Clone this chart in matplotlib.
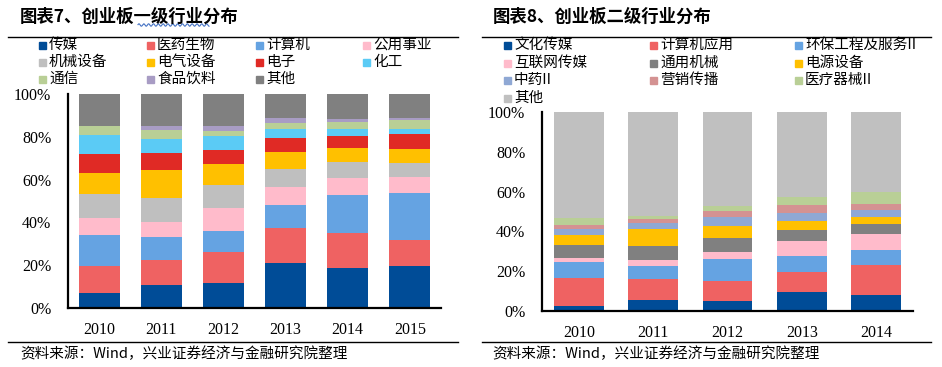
import numpy as np
import matplotlib.pyplot as plt
from matplotlib.patches import Rectangle

plt.rcParams['font.family'] = ['Noto Sans CJK SC', 'DejaVu Sans']

# 图表7 data (share, %)
years1 = ['2010', '2011', '2012', '2013', '2014', '2015']
names1 = ['传媒', '医药生物', '计算机', '公用事业', '机械设备', '电气设备',
          '电子', '化工', '通信', '食品饮料', '其他']
colors1 = ['#004C97', '#EF6262', '#65A3E2', '#FFBBCB', '#BFBFBF', '#FFC000',
           '#E02A25', '#5BCBF5', '#B9CF96', '#A89CC4', '#808080']
values1 = [
    [7.2, 10.9, 11.8, 21.2, 18.8, 19.8],
    [12.2, 11.7, 14.5, 16.3, 16.3, 12.1],
    [14.8, 10.7, 9.8, 10.7, 17.8, 21.9],
    [7.9, 7.0, 10.7, 8.4, 7.9, 7.5],
    [11.2, 11.0, 10.7, 8.4, 7.3, 6.5],
    [10.0, 13.2, 9.8, 7.9, 6.7, 6.5],
    [8.7, 8.0, 6.6, 6.6, 5.6, 7.0],
    [8.9, 6.5, 6.5, 4.2, 3.3, 2.4],
    [4.2, 4.2, 2.3, 2.8, 3.2, 4.2],
    [0.0, 1.9, 2.4, 2.3, 1.4, 0.9],
    [14.9, 14.9, 14.9, 11.2, 11.7, 11.2],
]

# 图表8 data (share, %)
years2 = ['2010', '2011', '2012', '2013', '2014']
names2 = ['文化传媒', '计算机应用', '环保工程及服务II', '互联网传媒', '通用机械',
          '电源设备', '中药II', '营销传播', '医疗器械II', '其他']
colors2 = ['#004C97', '#EF6262', '#65A3E2', '#FFBBCB', '#808080', '#FFC000',
           '#8FA8D4', '#D49292', '#B9CF96', '#C0C0C0']
values2 = [
    [2.3, 5.5, 5.0, 9.5, 8.0],
    [14.1, 10.4, 9.9, 9.9, 15.3],
    [8.1, 6.5, 11.1, 8.2, 7.4],
    [2.0, 3.2, 3.6, 7.6, 7.8],
    [6.7, 6.9, 7.1, 5.3, 5.2],
    [4.8, 8.5, 6.0, 4.7, 3.5],
    [3.0, 3.1, 4.7, 3.9, 3.4],
    [2.2, 2.0, 2.7, 4.0, 3.2],
    [3.5, 1.8, 2.7, 4.0, 5.8],
    [53.3, 52.1, 47.2, 42.9, 40.4],
]

W, H = 942, 367
fig = plt.figure(figsize=(W / 100, H / 100), dpi=100)


def fx(px):
    return px / W


def fy(py):
    return 1 - py / H


def stacked(ax, years, values, colors, width):
    x = np.arange(len(years))
    bottom = np.zeros(len(years))
    for vals, c in zip(values, colors):
        ax.bar(x, vals, width, bottom=bottom, color=c, linewidth=0)
        bottom += np.array(vals)
    ax.set_xlim(-0.5, len(years) - 0.5)
    ax.set_ylim(0, 100)
    ax.set_yticks(range(0, 101, 20))
    ax.set_yticklabels(['%d%%' % v for v in range(0, 101, 20)],
                       family='Liberation Serif', fontsize=11.5)
    ax.set_xticks(x)
    ax.set_xticklabels(years, family='Liberation Serif', fontsize=11.5)
    ax.tick_params(length=0)
    ax.tick_params(axis='y', pad=12)
    ax.tick_params(axis='x', pad=10)
    for s in ['top', 'right']:
        ax.spines[s].set_visible(False)
    for s in ['left', 'bottom']:
        ax.spines[s].set_linewidth(1.6)


def legend(names, colors, xs, ys, ncol):
    for i, (n, c) in enumerate(zip(names, colors)):
        x0 = xs[i % ncol]
        y0 = ys[i // ncol]
        fig.patches.append(Rectangle((fx(x0), fy(y0 + 3.5)), fx(7), 7 / H,
                                     transform=fig.transFigure, color=c))
        fig.text(fx(x0 + 10), fy(y0), n, fontsize=10.5, va='center',
                 family=['Noto Sans CJK SC', 'DejaVu Serif'])


# left panel
ax1 = fig.add_axes([fx(68), fy(308), fx(441 - 68), (308 - 94) / H])
stacked(ax1, years1, values1, colors1, 0.66)
fig.text(fx(20), fy(17), '图表7、创业板一级行业分布', fontsize=12.5,
         fontweight='bold', va='center')
wx = np.linspace(138, 209, 200)
fig.add_artist(plt.Line2D(fx(wx), fy(25 + 1.2 * np.sin(wx * 1.3)),
                          color='#4472C4', lw=0.8))
fig.add_artist(plt.Line2D([fx(8), fx(458)], [fy(37), fy(37)], color='black', lw=1))
legend(names1, colors1, [39, 147, 256, 363], [45, 62, 79], 4)
fig.add_artist(plt.Line2D([fx(8), fx(458)], [fy(342), fy(342)], color='black', lw=1))
fig.text(fx(20), fy(354), '资料来源：Wind，兴业证券经济与金融研究院整理',
         fontsize=10.5, va='center')

# right panel
ax2 = fig.add_axes([fx(542), fy(311), fx(913 - 542), (311 - 112) / H])
stacked(ax2, years2, values2, colors2, 0.67)
fig.text(fx(493), fy(17), '图表8、创业板二级行业分布', fontsize=12.5,
         fontweight='bold', va='center')
fig.add_artist(plt.Line2D([fx(482), fx(931)], [fy(37), fy(37)], color='black', lw=1))
legend(names2, colors2, [504, 650, 795], [45, 63, 80, 98], 3)
fig.add_artist(plt.Line2D([fx(482), fx(931)], [fy(342), fy(342)], color='black', lw=1))
fig.text(fx(492), fy(354), '资料来源：Wind，兴业证券经济与金融研究院整理',
         fontsize=10.5, va='center')

fig.savefig('out.png', dpi=100)
